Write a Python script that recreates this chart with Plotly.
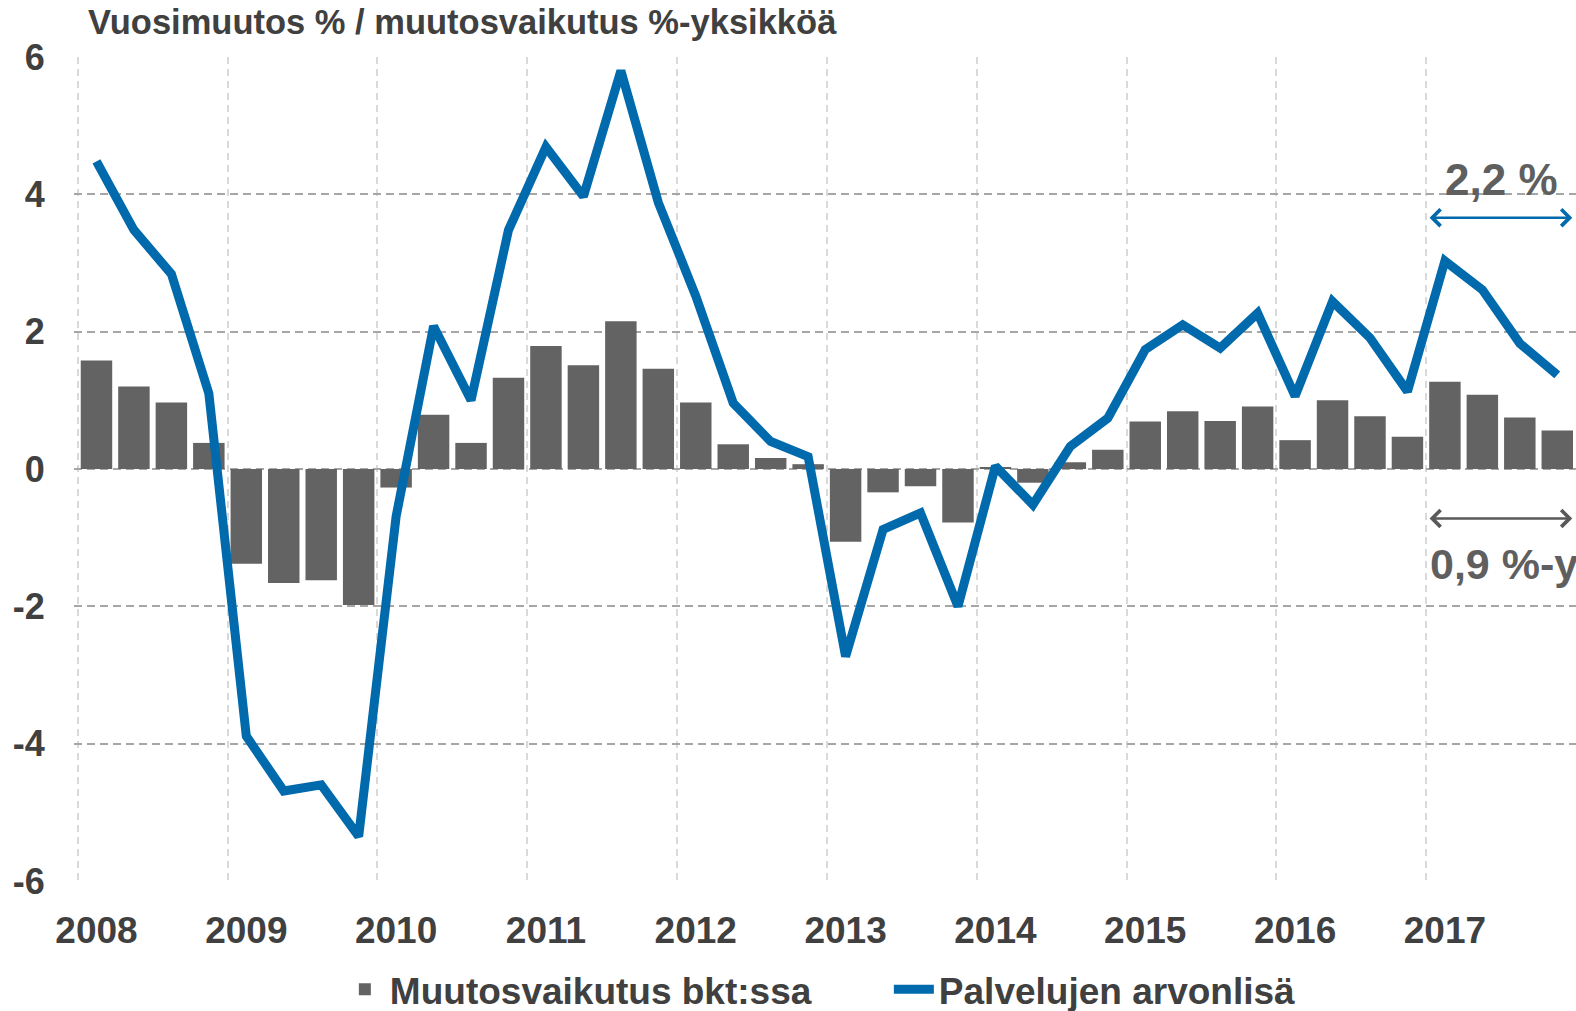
import plotly.graph_objects as go

years = ["2008", "2009", "2010", "2011", "2012", "2013", "2014", "2015", "2016", "2017"]
quarter_index = list(range(40))
y_ticks = [-6, -4, -2, 0, 2, 4, 6]
y_tick_labels = ["-6", "-4", "-2", "0", "2", "4", "6"]

gdp_contribution = [1.58, 1.20, 0.97, 0.38, -1.38, -1.66, -1.62, -1.98,
                    -0.27, 0.79, 0.38, 1.33, 1.79, 1.51, 2.15, 1.46,
                    0.97, 0.36, 0.16, 0.07, -1.06, -0.34, -0.25, -0.78,
                    0.02, -0.20, 0.10, 0.28, 0.69, 0.84, 0.70, 0.91,
                    0.42, 1.00, 0.77, 0.47, 1.27, 1.08, 0.75, 0.56]

services_value_added = [4.48, 3.48, 2.84, 1.10, -3.89, -4.69, -4.60, -5.35,
                        -0.69, 2.08, 1.00, 3.48, 4.69, 3.97, 5.80, 3.88,
                        2.52, 0.96, 0.40, 0.18, -2.73, -0.88, -0.64, -2.00,
                        0.04, -0.52, 0.33, 0.74, 1.74, 2.10, 1.76, 2.27,
                        1.06, 2.44, 1.91, 1.13, 3.03, 2.61, 1.83, 1.37]

bar_name = "Muutosvaikutus bkt:ssa"
line_name = "Palvelujen arvonlisä"
title_text = "Vuosimuutos % / muutosvaikutus %-yksikköä"
label_line = "2,2 %"
label_bar = "0,9 %-y"

FONT = "Liberation Sans, Arial, sans-serif"
TXT = "#404040"
BLUE = "#006aac"
GREY_BAR = "#636363"

fig = go.Figure()
fig.add_trace(go.Bar(x=quarter_index, y=gdp_contribution, name=bar_name,
                     marker=dict(color=GREY_BAR, line=dict(width=0))))
fig.add_trace(go.Scatter(x=quarter_index, y=services_value_added, name=line_name,
                         mode="lines", line=dict(color=BLUE, width=9)))

fig.update_layout(
    width=1576, height=1011,
    margin=dict(l=74, r=0, t=57, b=130, autoexpand=False),
    paper_bgcolor="white", plot_bgcolor="white",
    bargap=0.16,
    showlegend=True,
    legend=dict(orientation="h", x=0.177, xanchor="left", y=-0.132, yanchor="middle",
                font=dict(family=FONT, size=37, color=TXT, weight="bold"),
                itemwidth=40, tracegroupgap=0, entrywidth=494, entrywidthmode="pixels"),
    title=dict(text=title_text, x=88 / 1576, xanchor="left", xref="container",
               y=1 - 22 / 1011, yanchor="middle", yref="container",
               font=dict(family=FONT, size=34.5, color=TXT, weight="bold")),
    xaxis=dict(range=[-0.6, 39.5], tickmode="array", automargin=False,
               tickvals=[4 * i for i in range(len(years))], ticktext=years,
               showgrid=False, zeroline=False, showline=False,
               ticks="outside", ticklen=17, tickcolor="rgba(0,0,0,0)",
               tickfont=dict(family=FONT, size=37, color=TXT, weight="bold"),
               minor=dict(tickmode="array",
                          tickvals=[4 * i - 0.5 for i in range(len(years))],
                          showgrid=True, gridcolor="#d9d9d9",
                          griddash="7px,5px", gridwidth=1.5, ticks="")),
    yaxis=dict(range=[-6, 6], tickmode="array", tickvals=y_ticks, ticktext=y_tick_labels,
               automargin=False,
               showgrid=True, gridcolor="#a6a6a6", griddash="8px,5px", gridwidth=1.5,
               zeroline=False, showline=False,
               ticks="outside", ticklen=21, tickcolor="rgba(0,0,0,0)",
               tickfont=dict(family=FONT, size=36, color=TXT, weight="bold")),
)

fig.add_annotation(x=37.5, y=4.22, text=label_line, showarrow=False,
                   font=dict(family=FONT, size=44, color="#5f5f5f", weight="bold"))
fig.add_annotation(x=39.4, y=3.66, ax=35.55, ay=3.66, axref="x", ayref="y",
                   text="", showarrow=True, arrowside="end+start", arrowhead=4,
                   startarrowhead=4, arrowwidth=2.5, arrowcolor=BLUE,
                   arrowsize=1.3, startarrowsize=1.3)
fig.add_annotation(x=39.4, y=-0.72, ax=35.55, ay=-0.72, axref="x", ayref="y",
                   text="", showarrow=True, arrowside="end+start", arrowhead=4,
                   startarrowhead=4, arrowwidth=2.5, arrowcolor="#595959",
                   arrowsize=1.3, startarrowsize=1.3)
fig.add_annotation(x=35.55, y=-1.38, text=label_bar, showarrow=False, xanchor="left",
                   font=dict(family=FONT, size=43, color="#5f5f5f", weight="bold"))

fig.write_html("out.html")
